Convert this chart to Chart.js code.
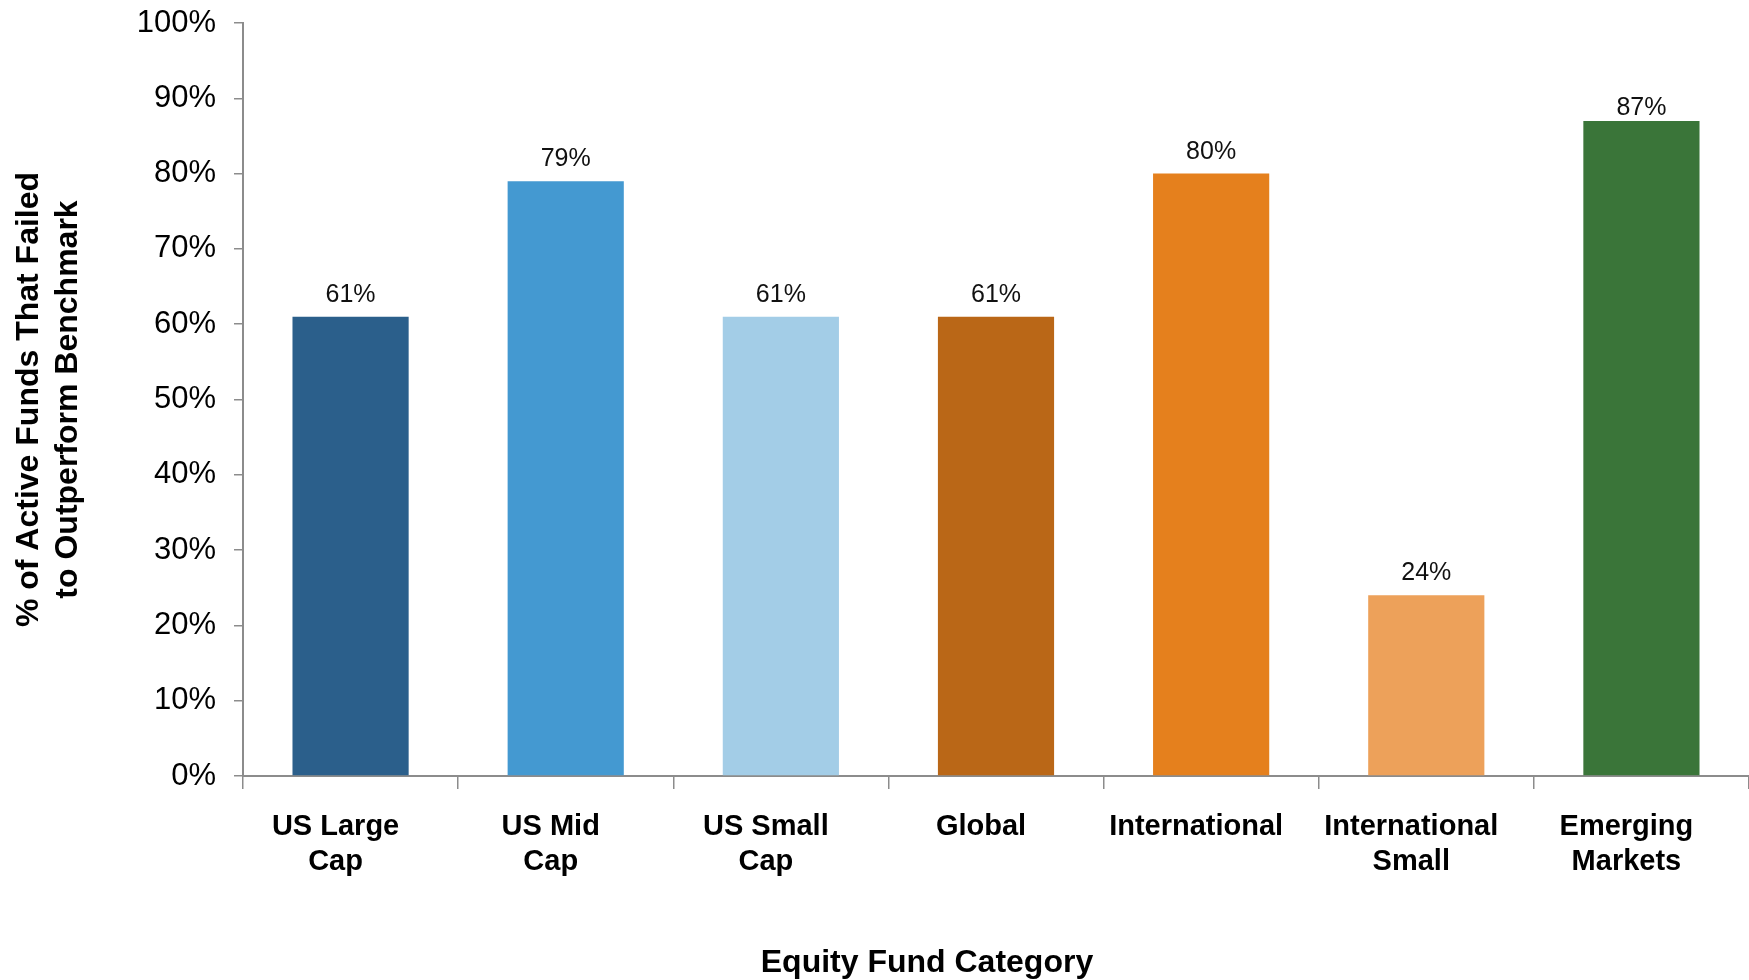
<!DOCTYPE html>
<html lang="en">
<head>
<meta charset="UTF-8">
<title>Active Funds vs Benchmark</title>
<script src="https://cdn.jsdelivr.net/npm/chart.js"></script>
<style>
  html, body { margin: 0; padding: 0; background: #fff; }
  #wrap { width: 1749px; height: 980px; }
</style>
</head>
<body>
<div id="wrap"><canvas id="fundChart" width="1749" height="980"></canvas></div>
<script>
const categories = [['US Large', 'Cap'], ['US Mid', 'Cap'], ['US Small', 'Cap'], 'Global', 'International', ['International', 'Small'], ['Emerging', 'Markets']];
const failedPct = [61, 79, 61, 61, 80, 24, 87];
const barColors = ['#2B5F8B', '#4499D1', '#A3CDE7', '#BA6717', '#E5801D', '#EDA15A', '#3A7539'];
const yTitle = ['% of Active Funds That Failed', 'to Outperform Benchmark'];
const xTitle = 'Equity Fund Category';

const FONT = "'Liberation Sans', Arial, Helvetica, sans-serif";
const axisGray = '#8c8c8c';

// value labels above bars (tallest one is tucked down a little, as in the original)
const barLabels = {
    id: 'barLabels',
    afterDatasetsDraw(chart) {
        const ctx = chart.ctx;
        const top = chart.chartArea.top;
        ctx.save();
        ctx.font = '25px ' + FONT;
        ctx.fillStyle = '#111';
        ctx.textAlign = 'center';
        ctx.textBaseline = 'alphabetic';
        chart.getDatasetMeta(0).data.forEach((bar, i) => {
            ctx.fillText(failedPct[i] + '%', bar.x, Math.max(bar.y - 15, top + 92));
        });
        ctx.restore();
    }
};

// x axis title sits a bit left of the plot centre in the original
const xAxisTitle = {
    id: 'xAxisTitle',
    afterDraw(chart) {
        const ctx = chart.ctx;
        ctx.save();
        ctx.font = 'bold 32px ' + FONT;
        ctx.fillStyle = '#000';
        ctx.textAlign = 'center';
        ctx.textBaseline = 'middle';
        ctx.fillText(xTitle, chart.width * 0.53, chart.height - 17);
        ctx.restore();
    }
};

Chart.defaults.font.family = FONT;

new Chart(document.getElementById('fundChart'), {
    type: 'bar',
    data: {
        labels: categories,
        datasets: [{
            data: failedPct,
            backgroundColor: barColors,
            barPercentage: 0.54,
            categoryPercentage: 1.0
        }]
    },
    options: {
        responsive: false,
        animation: false,
        layout: { padding: { top: 23, right: 0, bottom: 0, left: 0 } },
        plugins: {
            legend: { display: false },
            tooltip: { enabled: false }
        },
        scales: {
            x: {
                grid: { drawOnChartArea: false, color: axisGray, lineWidth: 1.5, tickLength: 13 },
                border: { color: axisGray, width: 2 },
                ticks: {
                    color: '#000',
                    font: { size: 29, weight: 'bold', lineHeight: 1.2 },
                    padding: 21,
                    labelOffset: -15,
                    maxRotation: 0,
                    autoSkip: false
                },
                afterFit(s) { s.height = 204; }
            },
            y: {
                min: 0,
                max: 100,
                grid: { drawOnChartArea: false, color: axisGray, lineWidth: 1.5, tickLength: 9 },
                border: { color: axisGray, width: 2 },
                ticks: {
                    stepSize: 10,
                    color: '#000',
                    font: { size: 31 },
                    padding: 18,
                    callback: v => v + '%'
                },
                title: {
                    display: true,
                    text: yTitle,
                    color: '#000',
                    font: { size: 32, weight: 'bold', lineHeight: 1.22 },
                    padding: { top: 10, bottom: 0 }
                },
                afterFit(s) {
                    s.width = 243;
                    s.paddingTop = 0;
                    s.paddingBottom = 0;
                }
            }
        }
    },
    plugins: [barLabels, xAxisTitle]
});
</script>
</body>
</html>
